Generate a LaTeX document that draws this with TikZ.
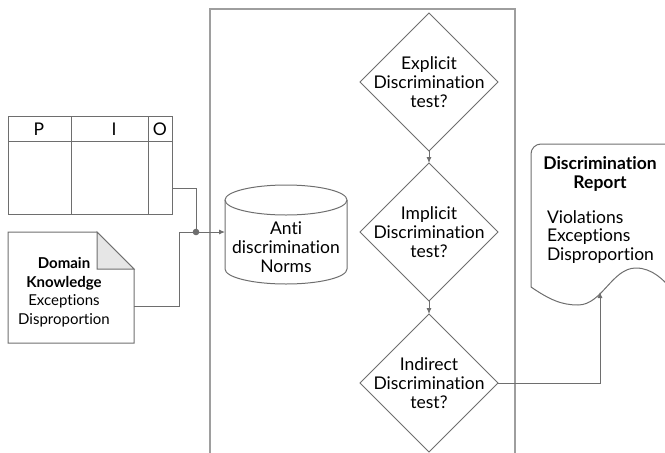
\documentclass[tikz,border=0pt]{standalone}
\usepackage{fontspec}
\setmainfont{Lato}[Ligatures=NoCommon]
\usetikzlibrary{arrows.meta,positioning,shapes.geometric,calc}
\definecolor{dgline}{HTML}{6E6E6E}
\definecolor{dgframe}{HTML}{9E9E9E}
\definecolor{dgfold}{HTML}{E6E6E6}

\begin{document}
\begin{tikzpicture}[x=1pt,y=-1pt,
  every node/.style={font=\fontsize{17.5}{18.7}\selectfont,align=center,inner sep=0pt,outer sep=0pt},
  sml/.style={font=\fontsize{15}{18.5}\selectfont},
  shp/.style={draw=dgline,line width=1pt},
  frm/.style={draw=dgframe,line width=1.2pt},
  dec/.style={shp,diamond,minimum width=138,minimum height=138},
  con/.style={draw=dgline,line width=0.9pt},
  arr/.style={con,-{Latex[length=6pt,width=5pt]}}]
\clip (0,0) rectangle (665,453);
\draw[frm] (210,470) -- (210,9) -- (515,9) -- (515,470);
% PIO table
\node[shp,minimum width=164,minimum height=98] (pio) at (90,165) {};
\draw[shp] (8,141) -- (172,141) (71,116) -- (71,214) (148,116) -- (148,214);
\node (pio-p) at (39,129) {P};
\node (pio-i) at (114,129) {I};
\node (pio-o) at (160,129) {O};
% domain knowledge
\node[minimum width=126,minimum height=111] (dom) at (71,287.5) {};
\draw[shp] (dom.north west) -- (97,232) -- (134,269) -- (dom.south east) -- (dom.south west) -- cycle;
\draw[shp,fill=dgfold] (97,232) -- (97,269) -- (134,269) -- cycle;
\node[sml] (dom-t) at (64,292) {\textbf{Domain}\\\textbf{Knowledge}\\Exceptions\\Disproportion};
% norms
\node[minimum width=122,minimum height=99] (norms) at (286,234.5) {};
\draw[shp] (225,200) -- (225,269) arc[start angle=180,end angle=0,x radius=61,y radius=15] -- (347,200);
\draw[shp] (286,200) ellipse[x radius=61,y radius=15];
\node (norms-t) at (286,247) {Anti\\discrimination\\Norms};
% tests
\node[dec,label={center:{Explicit\\Discrimination\\test?}}] (expl) at (429,82) {};
\node[dec,label={center:{Implicit\\Discrimination\\test?}}] (impl) at (429,232) {};
\node[dec,label={center:{Indirect\\Discrimination\\test?}}] (indi) at (429,383) {};
% report
\draw[shp,rounded corners=10] (531,287) -- (531,144) -- (690,144) -- (690,290);
\draw[shp] (531,287) .. controls (550,300) and (562,305) .. (578,305)
  .. controls (602,305) and (612,268) .. (636,268)
  .. controls (652,268) and (664,280) .. (672,290);
\coordinate (rep-in) at (600,292);
\node (rep) at (600,174) {\textbf{Discrimination}\\\textbf{Report}};
\node[align=left,anchor=west] (rep-l) at (547,237) {Violations\\Exceptions\\Disproportion};
% connectors
\coordinate (jn) at (196,232);
\draw[con] (pio.east) ++(0,23) -| (jn);
\draw[con] (dom.east) ++(0,18.5) -| (179,232) -- (jn);
\fill[dgline] (jn) circle (3.3);
\draw[arr] (jn) -- (norms.west |- jn);
\draw[arr] (expl.south) -- (impl.north);
\draw[arr] (impl.south) -- (indi.north);
\draw[arr] (indi.east) -| (rep-in);
\end{tikzpicture}
\end{document}
